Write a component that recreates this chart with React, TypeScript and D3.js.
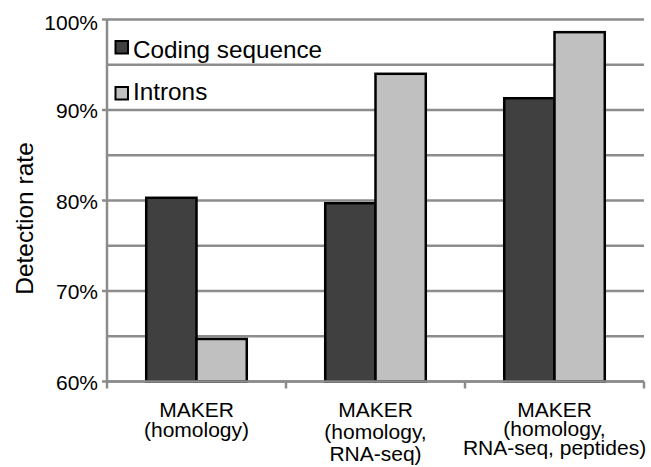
import React, { useRef, useEffect } from "react";
import * as d3 from "d3";

const categories = [
  ["MAKER", "(homology)"],
  ["MAKER", "(homology,", "RNA-seq)"],
  ["MAKER", "(homology,", "RNA-seq, peptides)"],
];
const seriesNames = ["Coding sequence", "Introns"];
const codingValues = [80.3, 79.7, 91.3];
const intronValues = [64.7, 94.0, 98.6];
const yTicks = [60, 70, 80, 90, 100];
const gridTicks = [60, 65, 70, 75, 80, 85, 90, 95, 100];

const colors = ["#404040", "#c0c0c0"];
const gridColor = "#8c8c8c";
const font = "Liberation Sans, Arial, sans-serif";
// label line spacing differs per category in the original
const labelLineHeight = [20, 22, 19];

const App = () => {
  const svgRef = useRef<SVGSVGElement>(null);
  const width = 651;
  const height = 467;

  useEffect(() => {
    const svg = d3.select(svgRef.current);
    svg.selectAll("*").remove();

    const margin = { top: 19.5, right: 7, bottom: 85.5, left: 107 };
    const innerWidth = width - margin.left - margin.right;
    const innerHeight = height - margin.top - margin.bottom;

    const x0 = d3
      .scaleBand()
      .domain(categories.map((_, i) => String(i)))
      .range([0, innerWidth])
      .paddingInner(0)
      .paddingOuter(0);

    const x1 = d3
      .scaleBand()
      .domain(seriesNames)
      .range([0, x0.bandwidth()])
      .paddingInner(0)
      .paddingOuter(0.78);

    const y = d3.scaleLinear().domain([60, 100]).range([innerHeight, 0]);

    const chart = svg
      .append("g")
      .attr("transform", `translate(${margin.left}, ${margin.top})`);

    // gridlines (major ones get a small tick to the left)
    chart
      .selectAll("line.grid")
      .data(gridTicks)
      .join("line")
      .attr("class", "grid")
      .attr("x1", (d) => (yTicks.includes(d) ? -5 : 0))
      .attr("x2", innerWidth)
      .attr("y1", (d) => y(d))
      .attr("y2", (d) => y(d))
      .attr("stroke", gridColor)
      .attr("stroke-width", 2.5);

    // y axis line
    chart
      .append("line")
      .attr("x1", 0)
      .attr("x2", 0)
      .attr("y1", 0)
      .attr("y2", innerHeight + 1)
      .attr("stroke", gridColor)
      .attr("stroke-width", 2.5);

    // category ticks
    const catEdges = [...categories.map((_, i) => x0(String(i)) as number), innerWidth];
    chart
      .selectAll("line.ctick")
      .data(catEdges)
      .join("line")
      .attr("class", "ctick")
      .attr("x1", (d) => d)
      .attr("x2", (d) => d)
      .attr("y1", innerHeight)
      .attr("y2", innerHeight + 7)
      .attr("stroke", gridColor)
      .attr("stroke-width", 2.5);

    // bars
    const data = categories.map((_, i) => [codingValues[i], intronValues[i]]);
    const groups = chart
      .selectAll("g.group")
      .data(data)
      .join("g")
      .attr("transform", (_, i) => `translate(${x0(String(i))},0)`);

    groups
      .selectAll("rect")
      .data((d) => d.map((v, j) => ({ v, j })))
      .join("rect")
      .attr("x", (d) => x1(seriesNames[d.j]) as number)
      .attr("width", x1.bandwidth())
      .attr("y", (d) => y(d.v))
      .attr("height", (d) => innerHeight - y(d.v))
      .attr("fill", (d) => colors[d.j])
      .attr("stroke", "#000")
      .attr("stroke-width", 2.5);

    // bottom axis line
    chart
      .append("line")
      .attr("x1", 0)
      .attr("x2", innerWidth)
      .attr("y1", innerHeight)
      .attr("y2", innerHeight)
      .attr("stroke", gridColor)
      .attr("stroke-width", 2.5);

    // y tick labels
    chart
      .selectAll("text.ylab")
      .data(yTicks)
      .join("text")
      .attr("class", "ylab")
      .attr("x", -9)
      .attr("y", (d) => y(d) + (d === 100 ? 10 : 8))
      .attr("text-anchor", "end")
      .style("font-family", font)
      .style("font-size", "21px")
      .text((d) => `${d}%`);

    // category labels
    categories.forEach((lines, i) => {
      const cx = (x0(String(i)) as number) + x0.bandwidth() / 2;
      const t = chart
        .append("text")
        .attr("text-anchor", "middle")
        .style("font-family", font)
        .style("font-size", "21px");
      lines.forEach((line, k) => {
        t.append("tspan")
          .attr("x", cx)
          .attr("y", innerHeight + 35 + k * labelLineHeight[i])
          .text(line);
      });
    });

    // axis title
    svg
      .append("text")
      .attr("transform", `translate(33, ${margin.top + innerHeight / 2 + 18}) rotate(-90)`)
      .attr("text-anchor", "middle")
      .style("font-family", font)
      .style("font-size", "24.5px")
      .text("Detection rate");

    // legend
    const legend = svg.append("g").attr("transform", "translate(115.5, 41)");
    seriesNames.forEach((name, i) => {
      legend
        .append("rect")
        .attr("x", 0)
        .attr("y", i * 46)
        .attr("width", 12.5)
        .attr("height", 12.5)
        .attr("fill", colors[i])
        .attr("stroke", "#000")
        .attr("stroke-width", 2);
      legend
        .append("text")
        .attr("x", 17.5)
        .attr("y", i * 42 + 17)
        .style("font-family", font)
        .style("font-size", "24.3px")
        .text(name);
    });
  }, []);

  return (
    <svg
      ref={svgRef}
      width={width}
      height={height}
      style={{ position: "absolute", left: 0, top: 0, background: "#fff" }}
    ></svg>
  );
};

export default App;
